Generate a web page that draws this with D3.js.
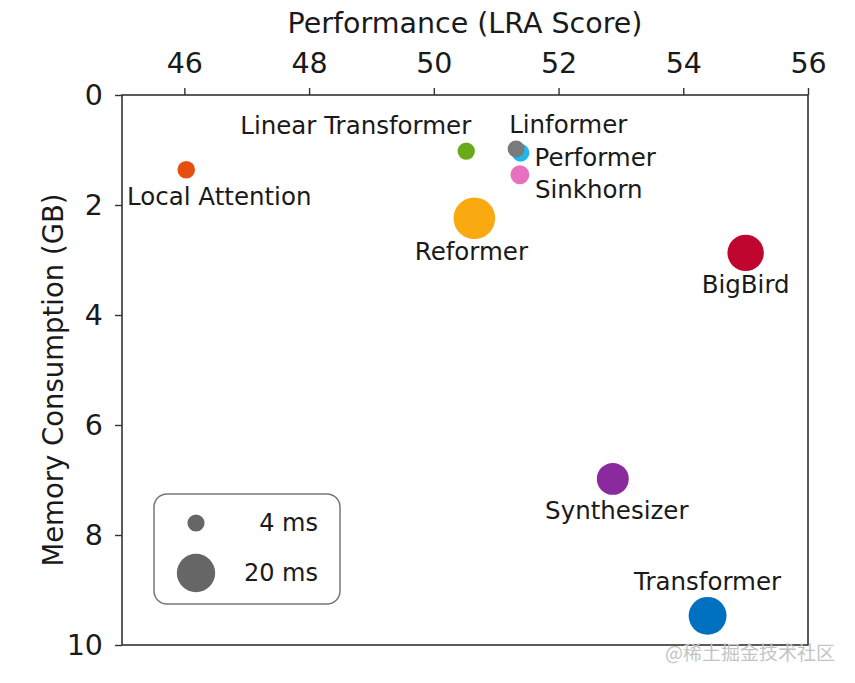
<!DOCTYPE html>
<html>
<head>
<meta charset="utf-8">
<script src="https://cdn.jsdelivr.net/npm/d3@7"></script>
<style>
  html, body { margin: 0; padding: 0; background: #fff; }
  svg { display: block; font-family: "DejaVu Sans", sans-serif; }
</style>
</head>
<body>
<svg id="chart" width="855" height="683"></svg>
<script>
const models = ["Local Attention", "Linear Transformer", "Linformer", "Performer", "Sinkhorn",
  "Reformer", "BigBird", "Synthesizer", "Transformer"];
const lraScore = [46.03, 50.52, 51.32, 51.39, 51.38, 50.65, 55.0, 52.87, 54.39];
const memoryGB = [1.36, 1.02, 0.98, 1.05, 1.45, 2.24, 2.87, 6.98, 9.47];
const stepMs = [4.2, 4.1, 3.9, 4.3, 4.8, 23.5, 18.0, 13.8, 19.5];
const colors = ["#e6500f", "#6aaa1a", "#7a7a7a", "#1cb8ee", "#e870c0", "#f8aa10", "#c0062e", "#8a2a9e", "#0070c0"];
// label placement relative to point: [dx, dy, anchor]
const labelPos = [[33, 27, "middle"], [5, -26, "end"], [-7, -24, "start"], [14, 5, "start"],
  [15, 15, "start"], [-3, 33, "middle"], [0, 32, "middle"], [4, 32, "middle"], [0, -34, "middle"]];
const xTicks = [46, 48, 50, 52, 54, 56];
const yTicks = [0, 2, 4, 6, 8, 10];
const legendMs = [4, 20];

const svg = d3.select("#chart");
const margin = { top: 95, left: 122, right: 47, bottom: 38 };
const width = 855, height = 683;
const innerW = width - margin.left - margin.right;
const innerH = height - margin.top - margin.bottom;

const x = d3.scaleLinear().domain([45, 56]).range([0, innerW]);
const y = d3.scaleLinear().domain([0, 10]).range([0, innerH]);
const r = d3.scaleSqrt().domain([0, 20]).range([0, 19.2]);

const g = svg.append("g").attr("transform", `translate(${margin.left},${margin.top})`);

const data = models.map((m, i) => ({
  name: m, x: lraScore[i], y: memoryGB[i], ms: stepMs[i], color: colors[i], lp: labelPos[i]
}));

// axes
const xAxis = g.append("g")
  .call(d3.axisTop(x).tickValues(xTicks).tickSize(7).tickPadding(15).tickFormat(d3.format("d")));
const yAxis = g.append("g")
  .call(d3.axisLeft(y).tickValues(yTicks).tickSize(7).tickPadding(12).tickFormat(d3.format("d")));
[xAxis, yAxis].forEach(a => {
  a.select(".domain").remove();
  a.selectAll("line").attr("stroke", "#333").attr("stroke-width", 1.4);
  a.selectAll("text").attr("fill", "#1a1a1a").style("font-size", "28.5px")
    .style("font-family", "DejaVu Sans, sans-serif");
});

g.append("rect")
  .attr("width", innerW).attr("height", innerH)
  .attr("fill", "none").attr("stroke", "#333").attr("stroke-width", 1.6);

svg.append("text")
  .attr("x", 465).attr("y", 33)
  .attr("text-anchor", "middle").attr("fill", "#1a1a1a")
  .style("font-size", "28.5px")
  .text("Performance (LRA Score)");

svg.append("text")
  .attr("transform", `translate(63,380) rotate(-90)`)
  .attr("text-anchor", "middle").attr("fill", "#1a1a1a")
  .style("font-size", "27.5px")
  .text("Memory Consumption (GB)");

// bubbles (draw big ones first so small ones stay on top)
const sorted = data.slice().sort((a, b) => d3.descending(a.ms, b.ms));
g.selectAll("circle.pt").data(sorted).join("circle")
  .attr("class", "pt")
  .attr("cx", d => x(d.x)).attr("cy", d => y(d.y))
  .attr("r", d => r(d.ms))
  .attr("fill", d => d.color);

g.selectAll("text.lbl").data(data).join("text")
  .attr("class", "lbl")
  .attr("x", d => x(d.x) + d.lp[0])
  .attr("y", d => y(d.y) + d.lp[1])
  .attr("dy", "0.35em")
  .attr("text-anchor", d => d.lp[2])
  .attr("fill", "#1a1a1a")
  .style("font-size", "24.5px")
  .text(d => d.name);

// size legend
const lg = svg.append("g").attr("transform", "translate(154,494)");
lg.append("rect")
  .attr("width", 186).attr("height", 110).attr("rx", 13)
  .attr("fill", "#fff").attr("stroke", "#777").attr("stroke-width", 1.5);
legendMs.forEach((ms, i) => {
  const cy = 29 + i * 50;
  lg.append("circle").attr("cx", 42).attr("cy", cy).attr("r", r(ms)).attr("fill", "#666");
  lg.append("text").attr("x", 164).attr("y", cy).attr("dy", "0.35em")
    .attr("text-anchor", "end").attr("fill", "#1a1a1a")
    .style("font-size", "24px").text(`${ms} ms`);
});

// watermark
svg.append("text")
  .attr("x", 835).attr("y", 660).attr("text-anchor", "end")
  .attr("fill", "#c4c4c4").style("font-size", "19px")
  .style("font-family", "Noto Sans CJK SC, sans-serif")
  .text("@稀土掘金技术社区");
</script>
</body>
</html>
